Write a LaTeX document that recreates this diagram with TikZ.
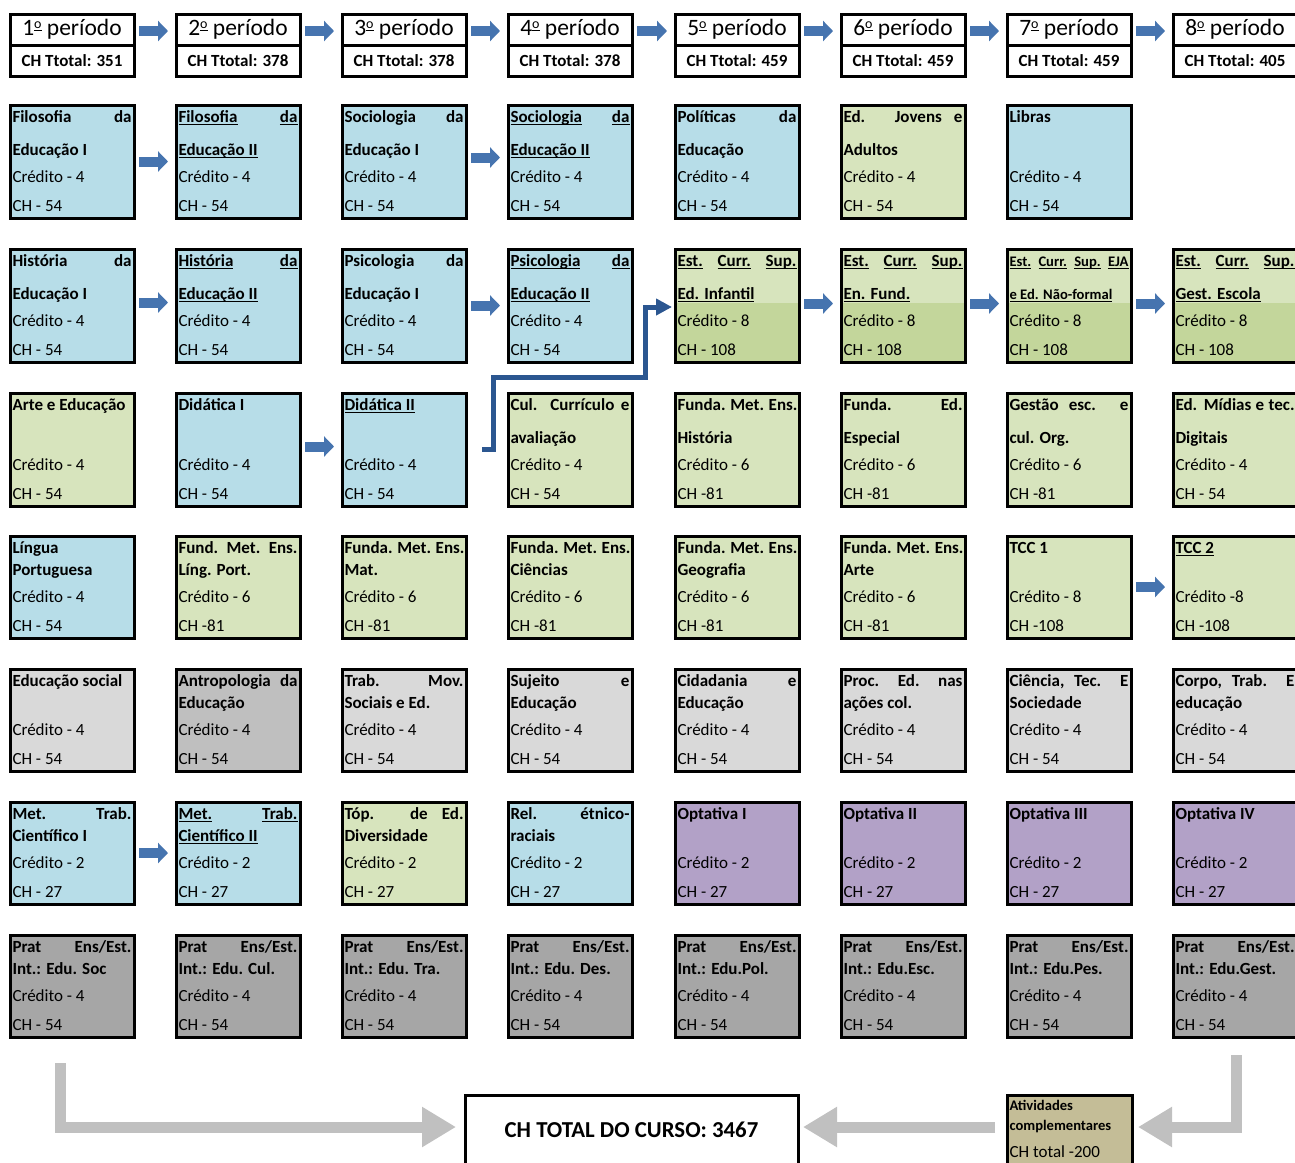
\documentclass[tikz,border=0pt]{standalone}
\usepackage{fontspec}
\setmainfont{Carlito}
\usetikzlibrary{arrows.meta,calc}
\definecolor{cblue}{HTML}{B7DDE8}
\definecolor{cgreen}{HTML}{D7E4BD}
\definecolor{cgreenB}{HTML}{C3D69B}
\definecolor{cgrayA}{HTML}{D9D9D9}
\definecolor{cgrayB}{HTML}{BFBFBF}
\definecolor{cgrayC}{HTML}{A6A6A6}
\definecolor{cpurple}{HTML}{B2A1C7}
\definecolor{ctan}{HTML}{C4BD97}
\definecolor{arrblue}{HTML}{4674AF}
\definecolor{elbblue}{HTML}{2B5690}
\definecolor{arrgray}{HTML}{C0C0C0}
\newcommand\uw[1]{\setbox0=\hbox{#1}\rlap{\rule[-1.6pt]{\wd0}{0.6pt}}\box0\relax}
\newcommand\J[1]{\makebox[59.5pt][s]{#1}}
\newcommand\sz{\fontsize{8.5pt}{10pt}\selectfont}
\newcommand\smf{\fontsize{7.3pt}{9pt}\selectfont}
\newcommand\ordo{\raisebox{3.6pt}{\fontsize{7pt}{8pt}\selectfont\setbox2=\hbox{o}\rlap{\rule[-1.1pt]{\wd2}{0.55pt}}\box2\relax}}
\tikzset{
  cbox/.style={draw=black, line width=1.5pt, anchor=north west, minimum width=62pt, inner sep=0pt, outer sep=0pt},
  ttl/.style={anchor=base west, inner sep=0pt, outer sep=0pt, font=\sz\bfseries},
  txt/.style={anchor=base west, inner sep=0pt, outer sep=0pt, font=\sz},
  fblue/.style={fill=cblue},
  fgreen/.style={fill=cgreen},
  fgrayA/.style={fill=cgrayA},
  fgrayB/.style={fill=cgrayB},
  fgrayC/.style={fill=cgrayC},
  fpurple/.style={fill=cpurple},
  fsplit/.style={fill=cgreenB, path picture={\fill[cgreen] (path picture bounding box.north west) rectangle ($(path picture bounding box.north east)+(0,54)$);}},
  hbox/.style={draw=black, line width=1.5pt, anchor=north west, minimum width=62pt, minimum height=15.5pt, inner sep=0pt, outer sep=0pt, fill=white},
  barrow/.style={draw=arrblue, line width=5pt, -{Triangle[length=5pt,width=10pt]}, shorten <=2.5pt, shorten >=4pt},
  elbow/.style={draw=elbblue, line width=2.5pt, line join=miter, -{Triangle[length=8pt,width=8pt]}, shorten >=1.5pt},
  garrow/.style={draw=arrgray, line width=5.5pt, line join=miter, -{Triangle[length=17pt,width=19pt]}},
}
\newcommand\talbox[8]{%
  \node[cbox,minimum height=56.5pt,#4] (#1) at (#2,#3) {};
  \node[ttl] (#1a) at ($(#1.north west)+(2.5,17)$) {#5};
  \node[ttl] (#1b) at ($(#1.north west)+(2.5,50)$) {#6};
  \node[txt] (#1c) at ($(#1.north west)+(2.5,77)$) {#7};
  \node[txt] (#1d) at ($(#1.north west)+(2.5,106)$) {#8};
}
\newcommand\shbox[8]{%
  \node[cbox,minimum height=51pt,#4] (#1) at (#2,#3) {};
  \node[ttl] (#1a) at ($(#1.north west)+(2.5,17)$) {#5};
  \node[ttl] (#1b) at ($(#1.north west)+(2.5,39)$) {#6};
  \node[txt] (#1c) at ($(#1.north west)+(2.5,66)$) {#7};
  \node[txt] (#1d) at ($(#1.north west)+(2.5,95)$) {#8};
}
\newcommand\hdr[4]{%
  \node[hbox,font=\fontsize{11.75pt}{13pt}\selectfont] (#1) at (#2,14) {#3\ordo{} período};
  \node[hbox,font=\sz\bfseries] (#1t) at (#2,45) {#4};
}
\begin{document}
\begin{tikzpicture}[x=0.5pt,y=-0.5pt]
\clip (0,0) rectangle (1295,1162);
\fill[white] (0,0) rectangle (1295,1162);
% headers
\hdr{h1}{10}{1}{CH Ttotal: 351}
\hdr{h2}{176}{2}{CH Ttotal: 378}
\hdr{h3}{342}{3}{CH Ttotal: 378}
\hdr{h4}{508}{4}{CH Ttotal: 378}
\hdr{h5}{675}{5}{CH Ttotal: 459}
\hdr{h6}{841}{6}{CH Ttotal: 459}
\hdr{h7}{1007}{7}{CH Ttotal: 459}
\hdr{h8}{1173}{8}{CH Ttotal: 405}
% column 1
\talbox{c1r1}{10}{105}{fblue}{\J{Filosofia da}}{Educação I}{Crédito - 4}{CH - 54}
\talbox{c1r2}{10}{249}{fblue}{\J{História da}}{Educação I}{Crédito - 4}{CH - 54}
\talbox{c1r3}{10}{393}{fgreen}{Arte e Educação}{}{Crédito - 4}{CH - 54}
\shbox{c1r4}{10}{536}{fblue}{Língua}{Portuguesa}{Crédito - 4}{CH - 54}
\shbox{c1r5}{10}{669}{fgrayA}{Educação social}{}{Crédito - 4}{CH - 54}
\shbox{c1r6}{10}{802}{fblue}{\J{Met. Trab.}}{Científico I}{Crédito - 2}{CH - 27}
\shbox{c1r7}{10}{935}{fgrayC}{\J{Prat Ens/Est.}}{Int.: Edu. Soc}{Crédito - 4}{CH - 54}
% column 2
\talbox{c2r1}{176}{105}{fblue}{\J{\uw{Filosofia} \uw{da}}}{\uw{Educação II}}{Crédito - 4}{CH - 54}
\talbox{c2r2}{176}{249}{fblue}{\J{\uw{História} \uw{da}}}{\uw{Educação II}}{Crédito - 4}{CH - 54}
\talbox{c2r3}{176}{393}{fblue}{Didática I}{}{Crédito - 4}{CH - 54}
\shbox{c2r4}{176}{536}{fgreen}{\J{Fund. Met. Ens.}}{Líng. Port.}{Crédito - 6}{CH -81}
\shbox{c2r5}{176}{669}{fgrayB}{\J{Antropologia da}}{Educação}{Crédito - 4}{CH - 54}
\shbox{c2r6}{176}{802}{fblue}{\J{\uw{Met.} \uw{Trab.}}}{\uw{Científico II}}{Crédito - 2}{CH - 27}
\shbox{c2r7}{176}{935}{fgrayC}{\J{Prat Ens/Est.}}{Int.: Edu. Cul.}{Crédito - 4}{CH - 54}
% column 3
\talbox{c3r1}{342}{105}{fblue}{\J{Sociologia da}}{Educação I}{Crédito - 4}{CH - 54}
\talbox{c3r2}{342}{249}{fblue}{\J{Psicologia da}}{Educação I}{Crédito - 4}{CH - 54}
\talbox{c3r3}{342}{393}{fblue}{\uw{Didática II}}{}{Crédito - 4}{CH - 54}
\shbox{c3r4}{342}{536}{fgreen}{\J{Funda. Met. Ens.}}{Mat.}{Crédito - 6}{CH -81}
\shbox{c3r5}{342}{669}{fgrayA}{\J{Trab. Mov.}}{Sociais e Ed.}{Crédito - 4}{CH - 54}
\shbox{c3r6}{342}{802}{fgreen}{\J{Tóp. de Ed.}}{Diversidade}{Crédito - 2}{CH - 27}
\shbox{c3r7}{342}{935}{fgrayC}{\J{Prat Ens/Est.}}{Int.: Edu. Tra.}{Crédito - 4}{CH - 54}
% column 4
\talbox{c4r1}{508}{105}{fblue}{\J{\uw{Sociologia} \uw{da}}}{\uw{Educação II}}{Crédito - 4}{CH - 54}
\talbox{c4r2}{508}{249}{fblue}{\J{\uw{Psicologia} \uw{da}}}{\uw{Educação II}}{Crédito - 4}{CH - 54}
\talbox{c4r3}{508}{393}{fgreen}{\J{Cul. Currículo e}}{avaliação}{Crédito - 4}{CH - 54}
\shbox{c4r4}{508}{536}{fgreen}{\J{Funda. Met. Ens.}}{Ciências}{Crédito - 6}{CH -81}
\shbox{c4r5}{508}{669}{fgrayA}{\J{Sujeito e}}{Educação}{Crédito - 4}{CH - 54}
\shbox{c4r6}{508}{802}{fblue}{\J{Rel. étnico-}}{raciais}{Crédito - 2}{CH - 27}
\shbox{c4r7}{508}{935}{fgrayC}{\J{Prat Ens/Est.}}{Int.: Edu. Des.}{Crédito - 4}{CH - 54}
% column 5
\talbox{c5r1}{675}{105}{fblue}{\J{Políticas da}}{Educação}{Crédito - 4}{CH - 54}
\talbox{c5r2}{675}{249}{fsplit}{\J{\uw{Est.} \uw{Curr.} \uw{Sup.}}}{\uw{Ed. Infantil}}{Crédito - 8}{CH - 108}
\talbox{c5r3}{675}{393}{fgreen}{\J{Funda. Met. Ens.}}{História}{Crédito - 6}{CH -81}
\shbox{c5r4}{675}{536}{fgreen}{\J{Funda. Met. Ens.}}{Geografia}{Crédito - 6}{CH -81}
\shbox{c5r5}{675}{669}{fgrayA}{\J{Cidadania e}}{Educação}{Crédito - 4}{CH - 54}
\shbox{c5r6}{675}{802}{fpurple}{Optativa I}{}{Crédito - 2}{CH - 27}
\shbox{c5r7}{675}{935}{fgrayC}{\J{Prat Ens/Est.}}{Int.: Edu.Pol.}{Crédito - 4}{CH - 54}
% column 6
\talbox{c6r1}{841}{105}{fgreen}{\J{Ed. Jovens e}}{Adultos}{Crédito - 4}{CH - 54}
\talbox{c6r2}{841}{249}{fsplit}{\J{\uw{Est.} \uw{Curr.} \uw{Sup.}}}{\uw{En. Fund.}}{Crédito - 8}{CH - 108}
\talbox{c6r3}{841}{393}{fgreen}{\J{Funda. Ed.}}{Especial}{Crédito - 6}{CH -81}
\shbox{c6r4}{841}{536}{fgreen}{\J{Funda. Met. Ens.}}{Arte}{Crédito - 6}{CH -81}
\shbox{c6r5}{841}{669}{fgrayA}{\J{Proc. Ed. nas}}{ações col.}{Crédito - 4}{CH - 54}
\shbox{c6r6}{841}{802}{fpurple}{Optativa II}{}{Crédito - 2}{CH - 27}
\shbox{c6r7}{841}{935}{fgrayC}{\J{Prat Ens/Est.}}{Int.: Edu.Esc.}{Crédito - 4}{CH - 54}
% column 7
\talbox{c7r1}{1007}{105}{fblue}{Libras}{}{Crédito - 4}{CH - 54}
\talbox{c7r2}{1007}{249}{fsplit}{\smf\J{\uw{Est.} \uw{Curr.} \uw{Sup.} \uw{EJA}}}{\smf\uw{e Ed. Não-formal}}{Crédito - 8}{CH - 108}
\talbox{c7r3}{1007}{393}{fgreen}{\J{Gestão esc. e}}{cul. Org.}{Crédito - 6}{CH -81}
\shbox{c7r4}{1007}{536}{fgreen}{TCC 1}{}{Crédito - 8}{CH -108}
\shbox{c7r5}{1007}{669}{fgrayA}{\J{Ciência, Tec. E}}{Sociedade}{Crédito - 4}{CH - 54}
\shbox{c7r6}{1007}{802}{fpurple}{Optativa III}{}{Crédito - 2}{CH - 27}
\shbox{c7r7}{1007}{935}{fgrayC}{\J{Prat Ens/Est.}}{Int.: Edu.Pes.}{Crédito - 4}{CH - 54}
% column 8
\talbox{c8r2}{1173}{249}{fsplit}{\J{\uw{Est.} \uw{Curr.} \uw{Sup.}}}{\uw{Gest. Escola}}{Crédito - 8}{CH - 108}
\talbox{c8r3}{1173}{393}{fgreen}{\J{Ed. Mídias e tec.}}{Digitais}{Crédito - 4}{CH - 54}
\shbox{c8r4}{1173}{536}{fgreen}{\uw{TCC 2}}{}{Crédito -8}{CH -108}
\shbox{c8r5}{1173}{669}{fgrayA}{\J{Corpo, Trab. E}}{educação}{Crédito - 4}{CH - 54}
\shbox{c8r6}{1173}{802}{fpurple}{Optativa IV}{}{Crédito - 2}{CH - 27}
\shbox{c8r7}{1173}{935}{fgrayC}{\J{Prat Ens/Est.}}{Int.: Edu.Gest.}{Crédito - 4}{CH - 54}
% header arrows
\foreach \a/\b in {h1/h2,h2/h3,h3/h4,h4/h5,h5/h6,h6/h7,h7/h8}
  \draw[barrow] ($(\a.east)+(0,1.5)$) -- ($(\b.west)+(0,1.5)$);
% prerequisite arrows
\draw[barrow] (c1r1.east) -- (c2r1.west);
\draw[barrow] ($(c3r1.east)+(0,-4)$) -- ($(c4r1.west)+(0,-4)$);
\draw[barrow] ($(c1r2.east)+(0,-3)$) -- ($(c2r2.west)+(0,-3)$);
\draw[barrow] (c3r2.east) -- (c4r2.west);
\draw[barrow] ($(c5r2.east)+(0,-2)$) -- ($(c6r2.west)+(0,-2)$);
\draw[barrow] ($(c6r2.east)+(0,-2)$) -- ($(c7r2.west)+(0,-2)$);
\draw[barrow] ($(c7r2.east)+(0,-2)$) -- ($(c8r2.west)+(0,-2)$);
\draw[barrow] ($(c2r3.east)+(0,-3)$) -- ($(c3r3.west)+(0,-3)$);
\draw[barrow] (c7r4.east) -- (c8r4.west);
\draw[barrow] (c1r6.east) -- (c2r6.west);
% elbow connector
\coordinate (e0) at ($(c3r3.east)+(16,0)$);
\coordinate (e1) at (645,377);
\draw[elbow] (e0) -- ++(11,0) |- (e1) |- ($(c5r2.west)+(0,1.5)$);
% bottom
\node[draw=black, line width=1.5pt, anchor=north west, minimum width=166.5pt, minimum height=35pt, inner sep=0pt, outer sep=0pt, fill=white, font=\fontsize{11.4pt}{13pt}\selectfont\bfseries] (chtot) at (465,1095) {CH TOTAL DO CURSO: 3467};
\node[draw=black, line width=1.5pt, anchor=north west, minimum width=62.5pt, minimum height=35pt, inner sep=0pt, outer sep=0pt, fill=ctan] (ativ) at (1007,1095) {};
\node[ttl,font=\smf\bfseries] (ativa) at ($(ativ.north west)+(2.5,15)$) {Atividades};
\node[ttl,font=\smf\bfseries] (ativb) at ($(ativ.north west)+(2.5,35)$) {complementares};
\node[txt] (ativc) at ($(ativ.north west)+(2.5,62)$) {CH total -200};
\coordinate (g1) at (60,1063);
\coordinate (g2) at (1236,1055);
\draw[garrow, shorten >=4.5pt] (g1) |- ($(chtot.west)+(0,-3)$);
\draw[garrow, shorten <=6pt, shorten >=2.5pt] ($(ativ.west)+(0,-3)$) -- ($(chtot.east)+(0,-3)$);
\draw[garrow, shorten >=3pt] (g2) |- ($(ativ.east)+(0,-3)$);
\end{tikzpicture}
\end{document}
